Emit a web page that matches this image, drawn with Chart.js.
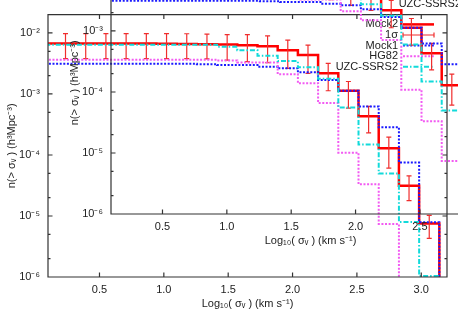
<!DOCTYPE html>
<html>
<head>
<meta charset="utf-8">
<script src="https://cdn.jsdelivr.net/npm/chart.js@4.4.0/dist/chart.umd.min.js"></script>
<style>
  html, body { margin:0; padding:0; background:#fff; overflow:hidden; }
  #wrap { position:relative; width:458px; height:321px; overflow:hidden; background:#fff; }
  canvas { position:absolute; }
</style>
</head>
<body>
<div id="wrap">
  <canvas id="main" width="458" height="321" style="left:0;top:0"></canvas>
  <canvas id="inset" width="458" height="321" style="left:63px;top:-63px"></canvas>
</div>
<script>
// bin centres, log10(sigma_v)
const xVals = [0.079, 0.236, 0.393, 0.550, 0.707, 0.864, 1.021, 1.178, 1.335, 1.492,
               1.649, 1.806, 1.963, 2.120, 2.277, 2.434, 2.591, 2.748, 2.905, 3.062, 3.219];

// n(>sigma) curves, 1e-9 = empty bin
const mock2 = [6.75e-3, 6.75e-3, 6.7e-3, 6.7e-3, 6.7e-3, 6.7e-3, 6.65e-3, 6.6e-3, 6.55e-3, 6.45e-3,
               6.3e-3, 6.08e-3, 5.23e-3, 4.34e-3, 2.18e-3, 1.13e-3, 4.31e-4, 1.285e-4, 3.13e-5, 7.55e-6, 1e-9];
const mock2Lo = [3.8e-3, 3.8e-3, 3.8e-3, 3.8e-3, 3.8e-3, 3.8e-3, 3.8e-3, 3.8e-3, 3.75e-3, 3.6e-3,
                 3.38e-3, 3.25e-3, 2.63e-3, 2.18e-3, 1.13e-3, 5.87e-4, 2.30e-4, 6.08e-5, 1.79e-5, 4.31e-6, null];
const mock2Hi = [9.75e-3, 9.75e-3, 9.75e-3, 9.75e-3, 9.75e-3, 9.75e-3, 9.75e-3, 9.7e-3, 9.6e-3, 9.4e-3,
                 9.38e-3, 8.94e-3, 7.61e-3, 6.31e-3, 3.17e-3, 1.60e-3, 6.26e-4, 1.96e-4, 4.55e-5, 1.02e-5, null];
const mock1 = [3.13e-3, 3.13e-3, 3.13e-3, 3.13e-3, 3.13e-3, 3.13e-3, 3.13e-3, 3.13e-3, 3.08e-3, 2.98e-3,
               2.98e-3, 2.80e-3, 2.63e-3, 2.26e-3, 1.70e-3, 1.13e-3, 6.26e-4, 2.85e-4, 7.5e-5, 7.9e-6, 1e-9];
const hg82 = [3.65e-3, 3.65e-3, 3.65e-3, 3.65e-3, 3.65e-3, 3.65e-3, 3.65e-3, 3.65e-3, 3.65e-3, 3.55e-3,
              3.29e-3, 3.29e-3, 2.11e-3, 1.50e-3, 7.09e-4, 1.09e-4, 3.31e-5, 7.41e-6, 1e-9, 1e-9, 1e-9];
const uzc = [6.4e-3, 6.4e-3, 6.4e-3, 6.4e-3, 6.4e-3, 6.4e-3, 6.4e-3, 6.4e-3, 6.4e-3, 5.92e-3,
             5.23e-3, 4.23e-3, 3.46e-3, 2.75e-3, 1.77e-3, 6.03e-4, 1.49e-4, 4.97e-5, 7.94e-6, 1.04e-6, 1e-9];

const xTicks = [0.5, 1, 1.5, 2, 2.5, 3];
const yTicks = [1e-6, 1e-5, 1e-4, 1e-3, 1e-2];
const yTickLabels = ['10\u207B\u2076', '10\u207B\u2075', '10\u207B\u2074', '10\u207B\u00B3', '10\u207B\u00B2'];
const keyLabels = ['Mock2', '1\u03C3', 'Mock1', 'HG82', 'UZC-SSRS2'];

const FONT = '"Liberation Sans", Arial, Helvetica, sans-serif';
Chart.defaults.font.family = FONT;
Chart.defaults.font.size = 11;
Chart.defaults.color = '#222';

const ERR_COLOR = 'rgb(240,45,45)';

function pts(arr) {
  return xVals.map((x, i) => ({x: x, y: arr[i]}));
}

const errorBars = {
  id: 'errorBars',
  afterDatasetDraw(chart, args) {
    if (args.index !== 0) return;
    const {ctx, chartArea: a} = chart;
    const xs = chart.scales.x, ys = chart.scales.y;
    ctx.save();
    ctx.beginPath();
    ctx.rect(a.left, a.top, a.right - a.left, a.bottom - a.top);
    ctx.clip();
    ctx.strokeStyle = ERR_COLOR;
    ctx.lineWidth = 1.2;
    xVals.forEach((xv, i) => {
      if (mock2Lo[i] == null) return;
      const px = xs.getPixelForValue(xv);
      const y1 = ys.getPixelForValue(mock2Lo[i]);
      const y2 = ys.getPixelForValue(mock2Hi[i]);
      ctx.beginPath();
      ctx.moveTo(px, y1); ctx.lineTo(px, y2);
      ctx.moveTo(px - 2.5, y1); ctx.lineTo(px + 2.5, y1);
      ctx.moveTo(px - 2.5, y2); ctx.lineTo(px + 2.5, y2);
      ctx.stroke();
    });
    ctx.restore();
  }
};

// gnuplot style key, text right aligned, sample on the right
const keyBox = {
  id: 'keyBox',
  afterDatasetsDraw(chart) {
    const {ctx, chartArea: a} = chart;
    const ds = chart.data.datasets;
    const rowDs = [0, -1, 1, 2, 3];
    ctx.save();
    ctx.font = '11px ' + FONT;
    ctx.textAlign = 'right';
    ctx.textBaseline = 'middle';
    keyLabels.forEach((lab, i) => {
      const yy = a.top + 9.8 + i * 10.6;
      ctx.fillStyle = '#222';
      ctx.fillText(lab, a.right - 49, yy);
      const x0 = a.right - 44, x1 = a.right - 13;
      ctx.beginPath();
      if (rowDs[i] < 0) {
        ctx.strokeStyle = ERR_COLOR;
        ctx.lineWidth = 1.2;
        ctx.setLineDash([]);
        ctx.moveTo(x0, yy); ctx.lineTo(x1, yy);
        ctx.moveTo(x0, yy - 2.5); ctx.lineTo(x0, yy + 2.5);
        ctx.moveTo(x1, yy - 2.5); ctx.lineTo(x1, yy + 2.5);
      } else {
        const d = ds[rowDs[i]];
        ctx.strokeStyle = d.borderColor;
        ctx.lineWidth = d.borderWidth;
        ctx.setLineDash(d.borderDash || []);
        ctx.moveTo(x0, yy); ctx.lineTo(x1, yy);
      }
      ctx.stroke();
    });
    ctx.restore();
  }
};

// box with inward ticks on all four sides
const frame = {
  id: 'frame',
  afterDraw(chart) {
    const {ctx, chartArea: a} = chart;
    const xs = chart.scales.x, ys = chart.scales.y;
    ctx.save();
    ctx.strokeStyle = '#333';
    ctx.lineWidth = 1.2;
    ctx.setLineDash([]);
    ctx.beginPath();
    ctx.rect(a.left, a.top, a.right - a.left, a.bottom - a.top);
    xTicks.forEach(v => {
      const px = xs.getPixelForValue(v);
      ctx.moveTo(px, a.bottom); ctx.lineTo(px, a.bottom - 4.5);
      ctx.moveTo(px, a.top); ctx.lineTo(px, a.top + 4.5);
    });
    yTicks.forEach(v => {
      [1, 2, 5].forEach(m => {
        const val = v * m;
        if (val > ys.max) return;
        const py = ys.getPixelForValue(val);
        const len = m === 1 ? 4.5 : 2.5;
        ctx.moveTo(a.left, py); ctx.lineTo(a.left + len, py);
        ctx.moveTo(a.right, py); ctx.lineTo(a.right - len, py);
      });
    });
    ctx.stroke();
    ctx.restore();
  }
};

function makeChart(id) {
  return new Chart(document.getElementById(id), {
    type: 'line',
    data: {
      datasets: [
        {label: 'Mock2', data: pts(mock2), borderColor: '#ff0000', borderWidth: 2.5,
         stepped: 'middle', pointRadius: 0, clip: 0, order: 5},
        {label: 'Mock1', data: pts(mock1), borderColor: '#1a1aff', borderWidth: 2,
         borderDash: [2, 1.6], stepped: 'middle', pointRadius: 0, clip: 0, order: 3},
        {label: 'HG82', data: pts(hg82), borderColor: '#f25af2', borderWidth: 2,
         borderDash: [2, 1.6], stepped: 'middle', pointRadius: 0, clip: 0, order: 2},
        {label: 'UZC-SSRS2', data: pts(uzc), borderColor: '#12dada', borderWidth: 2,
         borderDash: [5, 2, 1.5, 2], stepped: 'middle', pointRadius: 0, clip: 0, order: 1}
      ]
    },
    options: {
      responsive: false,
      animation: false,
      events: [],
      layout: {padding: {left: 0, top: 13, right: 11, bottom: 0}},
      plugins: {legend: {display: false}, tooltip: {enabled: false}},
      scales: {
        x: {
          type: 'linear', min: 0.1, max: 3.2,
          grid: {display: false, drawTicks: false},
          border: {display: false},
          afterBuildTicks: s => { s.ticks = xTicks.map(v => ({value: v})); },
          afterFit: s => { s.height = 44; },
          ticks: {padding: 6, autoSkip: false, maxRotation: 0},
          title: {display: true, text: 'Log\u2081\u2080( \u03C3\u1D65 ) (km s\u207B\u00B9)',
                  padding: {top: 0, bottom: 10}}
        },
        y: {
          type: 'logarithmic', min: 1e-6, max: 0.02,
          grid: {display: false, drawTicks: false},
          border: {display: false},
          afterBuildTicks: s => { s.ticks = yTicks.map(v => ({value: v})); },
          afterFit: s => { s.width = 48; },
          ticks: {padding: 8, autoSkip: false, callback: (v, i) => yTickLabels[i]},
          title: {display: true, text: 'n(> \u03C3\u1D65 ) (h\u00B3Mpc\u207B\u00B3)',
                  padding: {top: 5, bottom: 0}}
        }
      }
    },
    plugins: [errorBars, keyBox, frame]
  });
}

makeChart('main');
makeChart('inset');
</script>
</body>
</html>
